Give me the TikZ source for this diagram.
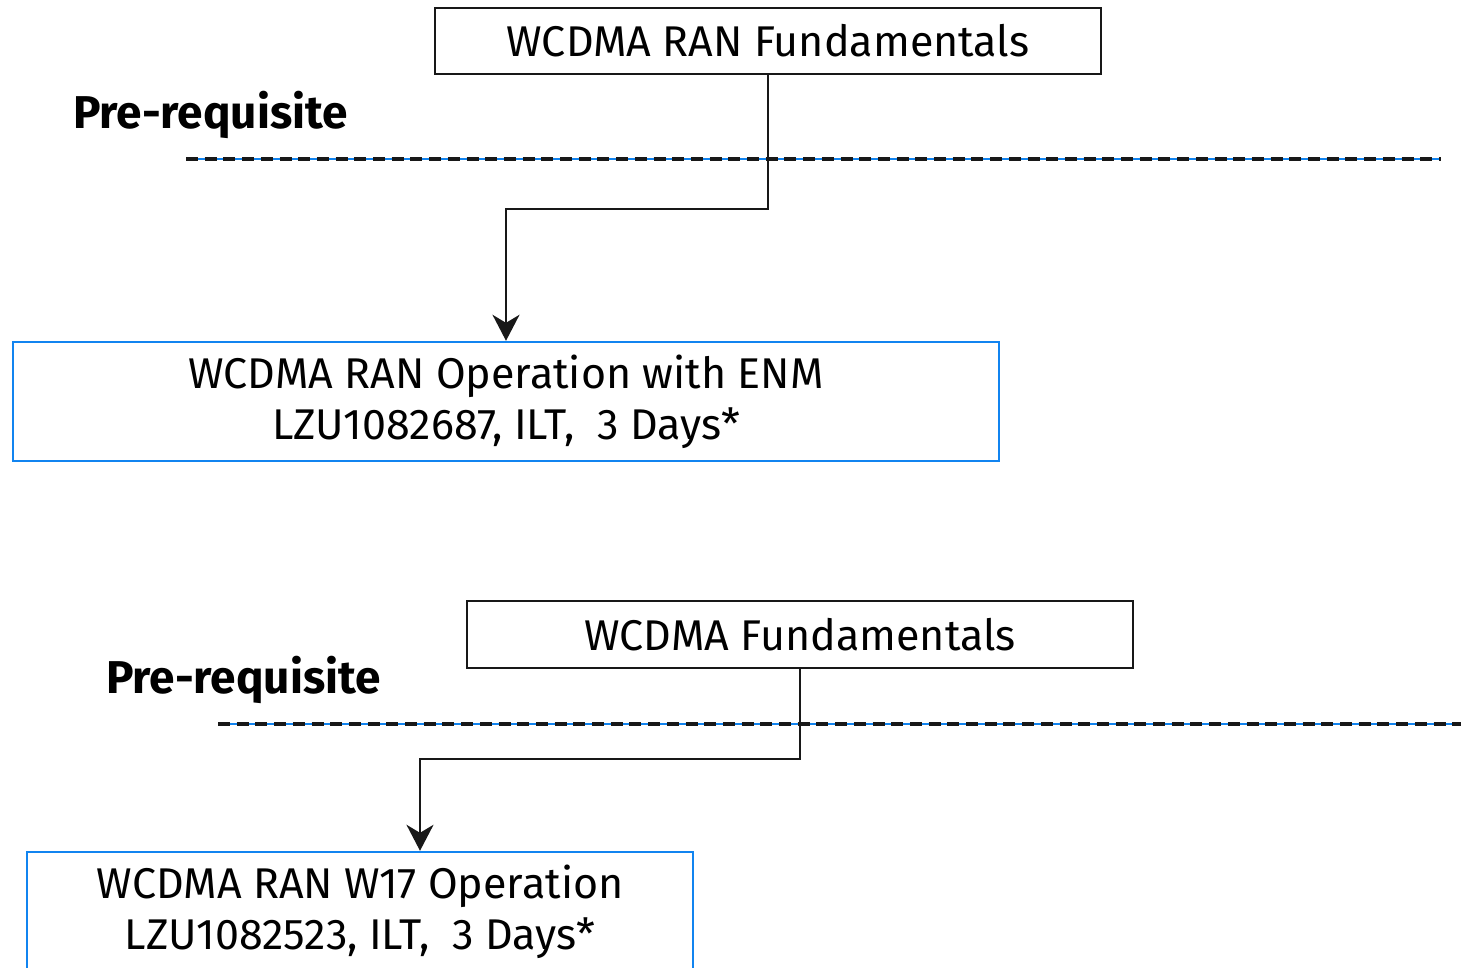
\documentclass[tikz,border=0pt]{standalone}
\usepackage{fontspec}
\setmainfont{Fira Sans}
\usetikzlibrary{arrows.meta,positioning}
\definecolor{ebl}{RGB}{17,132,240}
\definecolor{ebk}{RGB}{24,24,24}

\begin{document}
\begin{tikzpicture}[x=0.5pt,y=-0.5pt,>={Stealth[length=13pt,width=13.5pt,inset=4pt]},
                    line width=1pt,
                    base node/.style={rectangle,draw=ebk,inner sep=0pt,align=center,
                                      font=\fontsize{21.5}{25.5}\selectfont},
                    course node/.style={base node,draw=ebl,line width=1.2pt},
                    pre label/.style={anchor=west,inner sep=0pt,font=\fontsize{23}{27}\selectfont\bfseries},
                    split line/.style={draw=ebl,line width=0.7pt},
                    split dash/.style={draw=ebk,line width=1.6pt,dash pattern=on 6pt off 3.35pt}]
  \useasboundingbox (0,0) rectangle (1461,968);
  \clip (0,0) rectangle (1461,968);

  % first track
  \node[base node,minimum width=333pt,minimum height=33pt] (fund1) at (768,41) {WCDMA RAN Fundamentals};
  \node[pre label] (pre1) at (72,115) {Pre-requisite};
  \node[course node,minimum width=493pt,minimum height=59.5pt] (ops1) at (506,401.5)
       {WCDMA RAN Operation with ENM\\LZU1082687, ILT,~~3 Days*};
  \coordinate (l1a) at (186,159);
  \coordinate (l1b) at (1441,159);
  \path[split line] (l1a) -- (l1b);
  \path[split dash] (l1a) -- (l1b);
  \draw[->,draw=ebk] (fund1.south) -- ++(0,134) -| (ops1.north);

  % second track
  \node[base node,minimum width=333pt,minimum height=33.5pt] (fund2) at (800,634.5) {WCDMA Fundamentals};
  \node[pre label] (pre2) at (105,680) {Pre-requisite};
  \node[course node,minimum width=333pt,minimum height=59.5pt] (ops2) at (360,911.5)
       {WCDMA RAN W17 Operation\\LZU1082523, ILT,~~3 Days*};
  \coordinate (in2) at ([xshift=30pt]ops2.north);
  \coordinate (l2a) at (218,724);
  \coordinate (l2b) at (1461,724);
  \path[split line] (l2a) -- (l2b);
  \path[split dash] (l2a) -- (l2b);
  \draw[->,draw=ebk] (fund2.south) -- ++(0,90) -| (in2);
\end{tikzpicture}
\end{document}
